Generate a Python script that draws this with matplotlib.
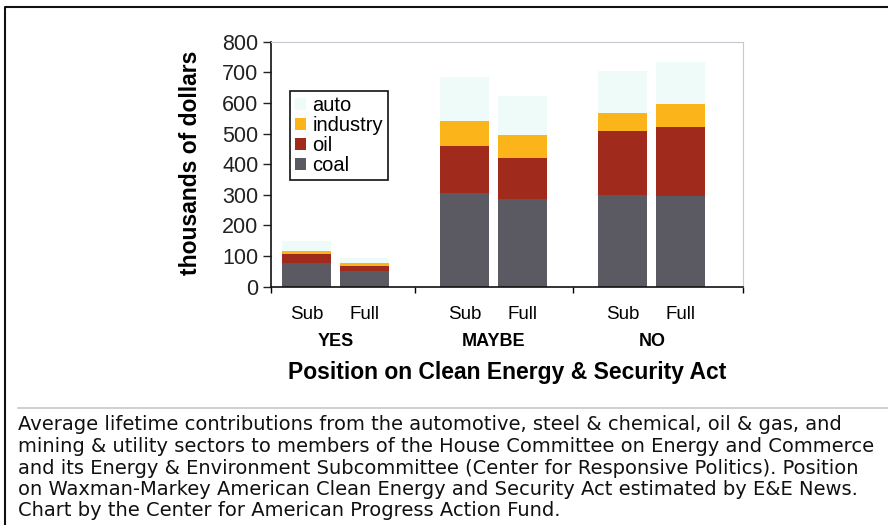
import numpy as np
import matplotlib
matplotlib.use('Agg')
import matplotlib.pyplot as plt
from matplotlib.patches import Patch
from matplotlib.lines import Line2D
import matplotlib.transforms as mtransforms

positions = ['YES', 'MAYBE', 'NO']
members = ['Sub', 'Full']
# thousands of dollars, order: YES Sub, YES Full, MAYBE Sub, MAYBE Full, NO Sub, NO Full
coal = [76, 52, 305, 287, 300, 296]
oil = [31, 15, 155, 134, 208, 225]
industry = [10, 11, 81, 74, 58, 74]
auto = [33, 17, 144, 127, 139, 140]
sectors = ['coal', 'oil', 'industry', 'auto']
colors = {'coal': '#5b5a63', 'oil': '#a02a1c', 'industry': '#fbb41a', 'auto': '#effbf8'}
yticks = [0, 100, 200, 300, 400, 500, 600, 700, 800]
caption_lines = [
    "Average lifetime contributions from the automotive, steel & chemical, oil & gas, and",
    "mining & utility sectors to members of the House Committee on Energy and Commerce",
    "and its Energy & Environment Subcommittee (Center for Responsive Politics). Position",
    "on Waxman-Markey American Clean Energy and Security Act estimated by E&E News.",
    "Chart by the Center for American Progress Action Fund.",
]

plt.rcParams['font.family'] = ['Liberation Sans', 'DejaVu Sans']

fig = plt.figure(figsize=(8.88, 5.25), dpi=100)
ax = fig.add_axes([271/888, 1-286.7/525, 472/888, 245/525])

offset = 0.1835
width = 0.31
xs = []
for g in range(len(positions)):
    for k in (-1, 1):
        xs.append(g + k*offset)
xs = np.array(xs)

data = {'coal': coal, 'oil': oil, 'industry': industry, 'auto': auto}
bottom = np.zeros(len(xs))
for s in sectors:
    vals = np.array(data[s])
    ax.bar(xs, vals, width, bottom=bottom, color=colors[s], linewidth=0)
    bottom += vals

x0, x1 = -0.411, 2.576
ax.set_xlim(x0, x1)
ax.set_ylim(0, 800)
ax.set_yticks(yticks)
ax.tick_params(axis='y', direction='out', length=6, width=1, pad=3, labelsize=15.5, colors='#222222')
ax.set_xticks([x0, 0.5, 1.5, x1])
ax.set_xticklabels([])
ax.tick_params(axis='x', which='major', direction='out', length=4, width=1)
ax.set_xticks(xs, minor=True)
ax.set_xticklabels(members * len(positions), minor=True)
ax.tick_params(axis='x', which='minor', length=0, pad=14, labelsize=13.5)

for side in ['left', 'bottom']:
    ax.spines[side].set_color('#111111')
    ax.spines[side].set_linewidth(1.2)
for side in ['top', 'right']:
    ax.spines[side].set_color('#c8c8d0')
    ax.spines[side].set_linewidth(0.8)
    ax.spines[side].set_linestyle((0, (1, 1)))

trans = mtransforms.blended_transform_factory(ax.transData, ax.transAxes)
for g, p in enumerate(positions):
    ax.text(g, (286.7-341)/245, p, transform=trans, ha='center', va='center',
            fontsize=13, fontweight='bold')

fig.text(507/888, 1-372/525, 'Position on Clean Energy & Security Act', ha='center', va='center',
         fontsize=16.5, fontweight='bold')
fig.text(190/888, 1-163/525, 'thousands of dollars', rotation=90, ha='center', va='center',
         fontsize=16.5, fontweight='bold')

handles = [Patch(facecolor=colors[s], edgecolor='none', label=s) for s in sectors[::-1]]
leg = ax.legend(handles=handles, loc='upper left', bbox_to_anchor=(290/888, 1-91/525),
                bbox_transform=fig.transFigure, borderaxespad=0, fancybox=False,
                framealpha=1, edgecolor='#111111', fontsize=14.5, handlelength=0.55,
                handleheight=0.55, handletextpad=0.3, labelspacing=0.05, borderpad=0.25)
leg.get_frame().set_linewidth(1.2)

# caption area
fig.add_artist(Line2D([18/888, 1.0], [1-408/525, 1-408/525], transform=fig.transFigure,
                      color='#c8c8c8', linewidth=1.2))
for i, line in enumerate(caption_lines):
    fig.text(18/888, 1-(425 + 21.5*i)/525, line, ha='left', va='center', fontsize=14,
             family='DejaVu Sans', color='#111111')

# outer frame
fig.add_artist(Line2D([5/888, 5/888, 1.0], [0.0, 1-7/525, 1-7/525], transform=fig.transFigure,
                      color='#111111', linewidth=1.5))

fig.savefig('out.png', dpi=100)
